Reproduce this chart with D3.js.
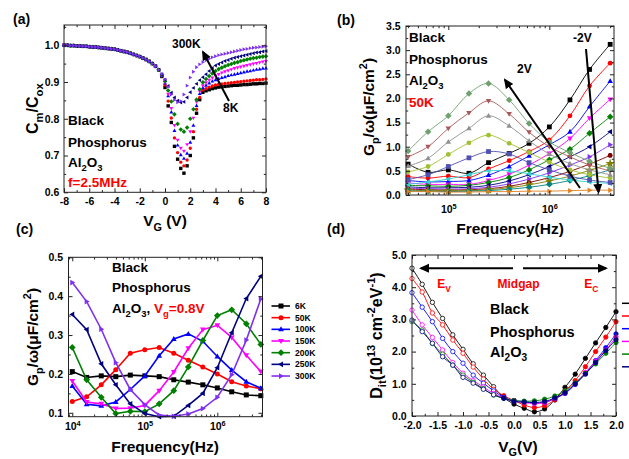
<!DOCTYPE html>
<html lang="en">
<head>
<meta charset="UTF-8">
<title>Black phosphorus / Al2O3 capacitance and conductance</title>
<script src="https://d3js.org/d3.v7.min.js"></script>
<style>
  body { margin: 0; background: #fff; }
  svg { display: block; font-family: Arial, "Liberation Sans", sans-serif; font-weight: bold; }
</style>
</head>
<body>
<svg width="629" height="459"></svg>
<script>
// ---------- (a) Cm/Cox vs VG, f = 2.5 MHz ----------
const vgA = [-8, -7.75, -7.5, -7.25, -7, -6.75, -6.5, -6.25, -6, -5.75, -5.5, -5.25, -5, -4.75, -4.5, -4.25,
  -4, -3.75, -3.5, -3.25, -3, -2.75, -2.5, -2.25, -2, -1.75, -1.5, -1.25, -1, -0.75, -0.5,
  -0.25, 0, 0.25, 0.5, 0.75, 1, 1.25, 1.5, 1.75, 2, 2.25, 2.5, 2.75, 3, 3.25, 3.5, 3.75,
  4, 4.25, 4.5, 4.75, 5, 5.25, 5.5, 5.75, 6, 6.25, 6.5, 6.75, 7, 7.25, 7.5, 7.75, 8];
// accumulation side, all temperatures overlap (-8 .. -0.5 V)
const cLeft = [1.000, 1.000, 0.999, 0.999, 0.998, 0.998, 0.997, 0.997, 0.996, 0.995, 0.995, 0.994, 0.993, 0.992, 0.991, 0.990,
  0.989, 0.987, 0.985, 0.983, 0.981, 0.978, 0.975, 0.972, 0.969, 0.965, 0.961, 0.956, 0.950, 0.943, 0.933];
const tempsA = ["8K", "50K", "100K", "150K", "200K", "250K", "300K"];
const cRight8K = [0.915, 0.885, 0.835, 0.790, 0.725, 0.690, 0.665, 0.652, 0.672, 0.700, 0.748, 0.815, 0.852, 0.872, 0.876, 0.879, 0.882, 0.884, 0.886, 0.887, 0.888, 0.889, 0.890, 0.891, 0.891, 0.892, 0.893, 0.893, 0.894, 0.895, 0.895, 0.896, 0.896, 0.897];
const cRight50K = [0.917, 0.892, 0.848, 0.802, 0.748, 0.708, 0.682, 0.672, 0.688, 0.720, 0.765, 0.826, 0.858, 0.878, 0.882, 0.886, 0.889, 0.892, 0.894, 0.895, 0.896, 0.897, 0.898, 0.899, 0.900, 0.901, 0.902, 0.903, 0.904, 0.905, 0.906, 0.906, 0.907, 0.908];
const cRight100K = [0.918, 0.897, 0.862, 0.818, 0.768, 0.728, 0.702, 0.692, 0.706, 0.736, 0.782, 0.836, 0.868, 0.884, 0.891, 0.897, 0.902, 0.906, 0.909, 0.912, 0.914, 0.917, 0.919, 0.921, 0.923, 0.925, 0.927, 0.929, 0.930, 0.932, 0.934, 0.935, 0.937, 0.938];
const cRight150K = [0.919, 0.899, 0.867, 0.828, 0.782, 0.742, 0.720, 0.712, 0.730, 0.765, 0.802, 0.846, 0.874, 0.890, 0.898, 0.905, 0.911, 0.917, 0.921, 0.925, 0.928, 0.931, 0.934, 0.937, 0.939, 0.941, 0.943, 0.945, 0.947, 0.949, 0.951, 0.953, 0.955, 0.956];
const cRight200K = [0.920, 0.902, 0.877, 0.847, 0.812, 0.786, 0.771, 0.765, 0.776, 0.800, 0.826, 0.852, 0.880, 0.899, 0.908, 0.916, 0.923, 0.930, 0.935, 0.939, 0.943, 0.946, 0.949, 0.952, 0.954, 0.957, 0.959, 0.961, 0.963, 0.965, 0.966, 0.968, 0.969, 0.970];
const cRight250K = [0.921, 0.906, 0.889, 0.871, 0.858, 0.849, 0.844, 0.846, 0.858, 0.872, 0.884, 0.895, 0.905, 0.913, 0.921, 0.930, 0.938, 0.945, 0.949, 0.953, 0.957, 0.960, 0.963, 0.966, 0.968, 0.970, 0.972, 0.974, 0.976, 0.978, 0.980, 0.981, 0.983, 0.984];
const cRight300K = [0.922, 0.907, 0.887, 0.866, 0.851, 0.845, 0.848, 0.866, 0.890, 0.912, 0.928, 0.940, 0.948, 0.954, 0.959, 0.963, 0.967, 0.970, 0.973, 0.975, 0.977, 0.979, 0.981, 0.983, 0.985, 0.987, 0.989, 0.990, 0.992, 0.993, 0.994, 0.995, 0.996, 0.997];
const cRightA = [cRight8K, cRight50K, cRight100K, cRight150K, cRight200K, cRight250K, cRight300K];

// ---------- (b) Gp/w vs f at 50K, VG = -2 .. 2 V ----------
const freqB = [4e4, 6.3e4, 1e5, 1.6e5, 2.5e5, 4e5, 6.3e5, 1e6, 1.6e6, 2.5e6, 4e6];
const voltsB = ["-2V", "-1.75V", "-1.5V", "-1.25V", "-1V", "-0.75V", "-0.5V", "-0.25V", "0V",
  "0.25V", "0.5V", "0.75V", "1V", "1.25V", "1.5V", "1.75V", "2V"];
const gpB = [
  [0.64, 0.47, 0.52, 0.45, 0.67, 0.86, 1.07, 1.41, 1.97, 2.60, 3.12],
  [0.38, 0.35, 0.39, 0.36, 0.54, 0.71, 0.90, 1.14, 1.64, 2.26, 2.73],
  [0.30, 0.27, 0.28, 0.30, 0.41, 0.59, 0.81, 1.04, 1.31, 1.83, 2.36],
  [0.25, 0.22, 0.22, 0.22, 0.30, 0.43, 0.62, 0.86, 1.17, 1.59, 1.98],
  [0.20, 0.19, 0.18, 0.20, 0.26, 0.36, 0.52, 0.73, 0.95, 1.28, 1.62],
  [0.17, 0.15, 0.15, 0.16, 0.20, 0.29, 0.42, 0.59, 0.79, 1.00, 1.31],
  [0.14, 0.13, 0.12, 0.13, 0.16, 0.23, 0.33, 0.46, 0.62, 0.79, 1.04],
  [0.12, 0.11, 0.10, 0.11, 0.13, 0.18, 0.26, 0.36, 0.49, 0.64, 0.82],
  [0.10, 0.09, 0.09, 0.09, 0.11, 0.15, 0.21, 0.29, 0.39, 0.51, 0.65],
  [0.08, 0.08, 0.07, 0.08, 0.09, 0.12, 0.16, 0.22, 0.30, 0.40, 0.52],
  [0.22, 0.27, 0.33, 0.42, 0.50, 0.50, 0.44, 0.37, 0.31, 0.27, 0.24],
  [0.07, 0.07, 0.06, 0.06, 0.07, 0.07, 0.08, 0.08, 0.09, 0.10, 0.10],
  [0.32, 0.42, 0.59, 0.77, 0.90, 0.85, 0.67, 0.52, 0.39, 0.31, 0.26],
  [0.48, 0.59, 0.84, 1.08, 1.24, 1.07, 0.88, 0.68, 0.52, 0.42, 0.35],
  [0.60, 0.76, 1.10, 1.38, 1.64, 1.43, 1.12, 0.85, 0.65, 0.52, 0.42],
  [0.79, 1.00, 1.38, 1.70, 1.95, 1.68, 1.30, 1.00, 0.79, 0.62, 0.50],
  [0.91, 1.31, 1.64, 2.10, 2.31, 1.97, 1.48, 1.10, 0.88, 0.70, 0.55]
];

// ---------- (c) Gp/w vs f at Vg = 0.8 V ----------
const freqC = [1e4, 1.58e4, 2.51e4, 3.98e4, 6.31e4, 1e5, 1.58e5, 2.51e5, 3.98e5, 6.31e5, 1e6, 1.58e6, 2.51e6, 3.98e6];
const tempsC = ["6K", "50K", "100K", "150K", "200K", "250K", "300K"];
const gp6K = [0.206, 0.191, 0.195, 0.193, 0.197, 0.195, 0.193, 0.185, 0.179, 0.172, 0.164, 0.154, 0.146, 0.144];
const gp50K = [0.129, 0.141, 0.172, 0.211, 0.253, 0.262, 0.268, 0.253, 0.235, 0.218, 0.200, 0.180, 0.169, 0.162];
const gp100K = [0.169, 0.122, 0.118, 0.128, 0.160, 0.195, 0.247, 0.290, 0.303, 0.284, 0.245, 0.210, 0.180, 0.163];
const gp150K = [0.182, 0.128, 0.123, 0.111, 0.112, 0.119, 0.157, 0.205, 0.266, 0.314, 0.325, 0.294, 0.248, 0.206];
const gp200K = [0.268, 0.185, 0.140, 0.098, 0.104, 0.103, 0.123, 0.157, 0.218, 0.286, 0.350, 0.365, 0.329, 0.276];
const gp250K = [0.353, 0.314, 0.226, 0.172, 0.123, 0.098, 0.090, 0.091, 0.119, 0.150, 0.216, 0.306, 0.394, 0.451];
const gp300K = [0.435, 0.386, 0.315, 0.229, 0.160, 0.121, 0.094, 0.091, 0.097, 0.111, 0.140, 0.198, 0.287, 0.393];
const gpC = [gp6K, gp50K, gp100K, gp150K, gp200K, gp250K, gp300K];

// ---------- (d) Dit vs VG ----------
const vgD = [-2.0, -1.8, -1.6, -1.4, -1.2, -1.0, -0.8, -0.6, -0.4, -0.2, 0.0, 0.2, 0.4, 0.6, 0.8, 1.0, 1.2, 1.4, 1.6, 1.8, 2.0];
const ditBlack = [4.59, 4.09, 3.53, 3.03, 2.52, 2.07, 1.62, 1.27, 0.91, 0.57, 0.37, 0.24, 0.13, 0.22, 0.50, 0.89, 1.30, 1.79, 2.27, 2.75, 3.24];
const ditRed = [4.27, 3.85, 3.20, 2.83, 2.36, 1.95, 1.52, 1.15, 0.83, 0.63, 0.48, 0.34, 0.26, 0.32, 0.50, 0.78, 1.10, 1.53, 2.00, 2.45, 2.93];
const ditBlue = [3.83, 3.38, 2.93, 2.41, 2.00, 1.64, 1.27, 1.02, 0.78, 0.58, 0.48, 0.45, 0.41, 0.42, 0.54, 0.70, 0.98, 1.32, 1.72, 2.12, 2.55];
const ditMagenta = [3.29, 2.83, 2.44, 2.05, 1.66, 1.33, 1.10, 0.90, 0.70, 0.56, 0.47, 0.42, 0.38, 0.42, 0.55, 0.72, 1.00, 1.35, 1.70, 2.05, 2.45];
const ditGreen = [2.93, 2.67, 2.25, 1.92, 1.58, 1.27, 1.05, 0.85, 0.65, 0.55, 0.48, 0.46, 0.47, 0.52, 0.62, 0.78, 1.03, 1.32, 1.62, 1.95, 2.28];
const ditNavy = [2.98, 2.62, 2.26, 1.84, 1.58, 1.20, 1.02, 0.83, 0.66, 0.55, 0.45, 0.43, 0.42, 0.45, 0.56, 0.72, 1.00, 1.30, 1.66, 2.03, 2.37];
const ditD = [ditBlack, ditRed, ditBlue, ditMagenta, ditGreen, ditNavy];

// colours / symbols (Origin-like)
const colors7 = ["#000000", "#ff0000", "#0000ff", "#ff00ff", "#008000", "#000080", "#8030f0"];
const symbols7 = ["square", "circle", "up", "down", "diamond", "left", "right"];
const colorsB = ["#000000", "#ff0000", "#0000ff", "#ff00ff", "#008000", "#000080", "#8030f0", "#800000",
  "#808000", "#008080", "#30d0d0", "#e08020", "#5050b0", "#a0c030", "#909090", "#a85858", "#70a070"];
const symbolsB = ["square", "circle", "up", "down", "diamond", "left", "right", "hex", "star", "diamond",
  "left", "right", "square", "circle", "up", "down", "diamond"];

const svg = d3.select("svg");
svg.append("rect").attr("width", 629).attr("height", 459).attr("fill", "#fff");

svg.append("defs").append("marker")
  .attr("id", "head")
  .attr("viewBox", "0 -5 10 10")
  .attr("refX", 8).attr("refY", 0)
  .attr("markerUnits", "userSpaceOnUse")
  .attr("markerWidth", 10).attr("markerHeight", 10)
  .attr("orient", "auto")
  .append("path").attr("d", "M0,-4.5L10,0L0,4.5Z").attr("fill", "#000");

function markerPath(type, s) {
  switch (type) {
    case "square": return `M${-s},${-s}H${s}V${s}H${-s}Z`;
    case "circle": return `M${s},0A${s},${s} 0 1,1 ${-s},0A${s},${s} 0 1,1 ${s},0Z`;
    case "up": return `M0,${-s * 1.2}L${s * 1.15},${s * 0.8}L${-s * 1.15},${s * 0.8}Z`;
    case "down": return `M0,${s * 1.2}L${s * 1.15},${-s * 0.8}L${-s * 1.15},${-s * 0.8}Z`;
    case "left": return `M${-s * 1.2},0L${s * 0.8},${-s * 1.15}L${s * 0.8},${s * 1.15}Z`;
    case "right": return `M${s * 1.2},0L${-s * 0.8},${-s * 1.15}L${-s * 0.8},${s * 1.15}Z`;
    case "diamond": return `M0,${-s * 1.35}L${s * 1.35},0L0,${s * 1.35}L${-s * 1.35},0Z`;
    case "hex": return d3.range(6).map(i => {
      const a = Math.PI / 3 * i;
      return (i ? "L" : "M") + (s * 1.1 * Math.cos(a)) + "," + (s * 1.1 * Math.sin(a));
    }).join("") + "Z";
    case "star": return d3.symbol(d3.symbolStar, s * s * 5)();
  }
}

function styleAxis(g, size) {
  g.select(".domain").remove();
  g.attr("font-family", null).attr("font-size", size).attr("font-weight", "bold");
  g.selectAll(".tick line").attr("stroke", "#222");
  g.selectAll(".tick text").attr("fill", "#000");
}

function drawAxes(box, x, y, o) {
  const fs = o.fs || 10.5;
  const bottom = svg.append("g").attr("transform", `translate(0,${box.y1})`)
    .call(d3.axisBottom(x).tickValues(o.xMajor).tickSize(-4).tickPadding(o.xPad).tickFormat(o.xFmt));
  styleAxis(bottom, fs);
  if (o.log) {
    bottom.selectAll(".tick text").each(function (d) {
      const t = d3.select(this).text("10");
      t.append("tspan").attr("dy", "-0.5em").attr("font-size", fs * 0.7).text(Math.round(Math.log10(d)));
    });
  }
  svg.append("g").attr("transform", `translate(0,${box.y1})`)
    .call(d3.axisBottom(x).tickValues(o.xMinor).tickSize(-2.2).tickFormat("")).call(g => styleAxis(g, fs));
  svg.append("g").attr("transform", `translate(0,${box.y0})`)
    .call(d3.axisTop(x).tickValues(o.xMajor).tickSize(-4).tickFormat("")).call(g => styleAxis(g, fs));
  svg.append("g").attr("transform", `translate(0,${box.y0})`)
    .call(d3.axisTop(x).tickValues(o.xMinor).tickSize(-2.2).tickFormat("")).call(g => styleAxis(g, fs));

  svg.append("g").attr("transform", `translate(${box.x0},0)`)
    .call(d3.axisLeft(y).tickValues(o.yMajor).tickSize(-4).tickPadding(o.yPad).tickFormat(o.yFmt)).call(g => styleAxis(g, fs));
  svg.append("g").attr("transform", `translate(${box.x0},0)`)
    .call(d3.axisLeft(y).tickValues(o.yMinor).tickSize(-2.2).tickFormat("")).call(g => styleAxis(g, fs));
  svg.append("g").attr("transform", `translate(${box.x1},0)`)
    .call(d3.axisRight(y).tickValues(o.yMajor).tickSize(-4).tickFormat("")).call(g => styleAxis(g, fs));
  svg.append("g").attr("transform", `translate(${box.x1},0)`)
    .call(d3.axisRight(y).tickValues(o.yMinor).tickSize(-2.2).tickFormat("")).call(g => styleAxis(g, fs));

  svg.append("rect")
    .attr("x", box.x0).attr("y", box.y0)
    .attr("width", box.x1 - box.x0).attr("height", box.y1 - box.y0)
    .attr("fill", "none").attr("stroke", "#222").attr("stroke-width", 1);
}

// text with sub/superscripts
function rich(x, y, parts, size, opt = {}) {
  const t = svg.append("text")
    .attr("x", x).attr("y", y)
    .attr("font-size", size)
    .attr("fill", opt.fill || "#000")
    .attr("text-anchor", opt.anchor || "start");
  if (opt.rotate) t.attr("transform", `rotate(-90 ${x} ${y})`);
  let shift = 0;
  parts.forEach(p => {
    const part = typeof p === "string" ? { t: p } : p;
    const target = part.sub ? size * 0.3 : part.sup ? -size * 0.42 : 0;
    const s = t.append("tspan").attr("dy", target - shift).text(part.t);
    if (part.sub || part.sup) s.attr("font-size", size * 0.7);
    if (part.fill) s.attr("fill", part.fill);
    shift = target;
  });
  return t;
}

function arrow(x1, y1, x2, y2) {
  svg.append("line")
    .attr("x1", x1).attr("y1", y1).attr("x2", x2).attr("y2", y2)
    .attr("stroke", "#000").attr("stroke-width", 2)
    .attr("marker-end", "url(#head)");
}

const fmtStr = d => String(d);
const fmt1 = d => d.toFixed(1);

// ================= panel (a) =================
const boxA = { x0: 64, x1: 266, y0: 25, y1: 192.3 };
const xA = d3.scaleLinear().domain([-8, 8]).range([boxA.x0, boxA.x1]);
const yA = d3.scaleLinear().domain([0.6, 1.055]).range([boxA.y1, boxA.y0]);

tempsA.forEach((name, i) => {
  const vals = cLeft.concat(cRightA[i]);
  svg.append("g").attr("class", "series-a").selectAll("path")
    .data(vgA.map((v, k) => [v, vals[k]]))
    .join("path")
    .attr("transform", d => `translate(${xA(d[0])},${yA(d[1])})`)
    .attr("d", markerPath(symbols7[i], 1.7))
    .attr("fill", colors7[i]);
});

drawAxes(boxA, xA, yA, {
  xMajor: [-8, -6, -4, -2, 0, 2, 4, 6, 8], xMinor: [-7, -5, -3, -1, 1, 3, 5, 7], xPad: 5.3, xFmt: fmtStr,
  yMajor: [0.6, 0.7, 0.8, 0.9, 1.0], yMinor: [0.65, 0.75, 0.85, 0.95, 1.05], yPad: 4.7, yFmt: fmt1
});

svg.append("text").attr("x", 13).attr("y", 24).attr("font-size", 14).text("(a)");
rich(38, (boxA.y0 + boxA.y1) / 2, ["C", { t: "m", sub: true }, "/C", { t: "ox", sub: true }], 16, { anchor: "middle", rotate: true });
rich(165, 226, ["V", { t: "G", sub: true }, " (V)"], 15.5, { anchor: "middle" });
rich(68, 125, ["Black"], 13.5);
rich(68, 147, ["Phosphorus"], 13.5);
rich(68, 167, ["Al", { t: "2", sub: true }, "O", { t: "3", sub: true }], 13.5);
rich(68, 187, ["f=2.5MHz"], 13.5, { fill: "#ff0000" });
rich(172, 48, ["300K"], 12);
rich(223, 112, ["8K"], 12);
arrow(229, 101, 203, 52);

// ================= panel (b) =================
const boxB = { x0: 406, x1: 614, y0: 26, y1: 195 };
const xB = d3.scaleLog().domain([Math.pow(10, 4.581), Math.pow(10, 6.64)]).range([boxB.x0, boxB.x1]);
const yB = d3.scaleLinear().domain([0, 3.5]).range([boxB.y1, boxB.y0]);
const lineB = d3.line().x(d => xB(d[0])).y(d => yB(d[1])).curve(d3.curveCatmullRom.alpha(0.5));

voltsB.forEach((name, i) => {
  const pts = freqB.map((f, k) => [f, gpB[i][k]]);
  const g = svg.append("g").attr("class", "series-b");
  g.append("path").attr("d", lineB(pts)).attr("fill", "none")
    .attr("stroke", colorsB[i]).attr("stroke-width", 0.9);
  g.selectAll("path.m").data(pts).join("path").attr("class", "m")
    .attr("transform", d => `translate(${xB(d[0])},${yB(d[1])})`)
    .attr("d", markerPath(symbolsB[i], 2.4))
    .attr("fill", colorsB[i]);
});

drawAxes(boxB, xB, yB, {
  xMajor: [1e5, 1e6], xMinor: xB.ticks().filter(t => Math.abs(Math.log10(t) % 1) > 1e-6),
  xPad: 10.5, xFmt: () => "", log: true,
  yMajor: [0, 0.5, 1, 1.5, 2, 2.5, 3, 3.5], yMinor: [0.25, 0.75, 1.25, 1.75, 2.25, 2.75, 3.25], yPad: 5.3, yFmt: fmt1
});

svg.append("text").attr("x", 337).attr("y", 25).attr("font-size", 14).text("(b)");
rich(374, 107, ["G", { t: "p", sub: true }, "/ω(μF/cm", { t: "2", sup: true }, ")"], 15.5, { anchor: "middle", rotate: true });
rich(510, 234, ["Frequency(Hz)"], 15.5, { anchor: "middle" });
rich(409, 42, ["Black"], 13.5);
rich(409, 63.7, ["Phosphorus"], 13.5);
rich(409, 85, ["Al", { t: "2", sub: true }, "O", { t: "3", sub: true }], 13.5);
rich(409, 107, ["50K"], 13.5, { fill: "#ff0000" });
rich(517, 73.3, ["2V"], 12);
rich(573, 41.7, ["-2V"], 12);
arrow(580, 188, 505, 80);
arrow(586, 49, 598.5, 192);

// ================= panel (c) =================
const boxC = { x0: 68.5, x1: 262.5, y0: 257.3, y1: 416.7 };
const xC = d3.scaleLog().domain([Math.pow(10, 3.948), Math.pow(10, 6.623)]).range([boxC.x0, boxC.x1]);
const yC = d3.scaleLinear().domain([0.09, 0.5]).range([boxC.y1, boxC.y0]);
const lineC = d3.line().x(d => xC(d[0])).y(d => yC(d[1]));

tempsC.forEach((name, i) => {
  const pts = freqC.map((f, k) => [f, gpC[i][k]]);
  const g = svg.append("g").attr("class", "series-c");
  g.append("path").attr("d", lineC(pts)).attr("fill", "none")
    .attr("stroke", colors7[i]).attr("stroke-width", 1.6);
  g.selectAll("path.m").data(pts).join("path").attr("class", "m")
    .attr("transform", d => `translate(${xC(d[0])},${yC(d[1])})`)
    .attr("d", markerPath(symbols7[i], 2.5))
    .attr("fill", colors7[i]);
});

drawAxes(boxC, xC, yC, {
  xMajor: [1e4, 1e5, 1e6], xMinor: xC.ticks().filter(t => Math.abs(Math.log10(t) % 1) > 1e-6),
  xPad: 6, xFmt: () => "", log: true,
  yMajor: [0.1, 0.2, 0.3, 0.4, 0.5], yMinor: [0.15, 0.25, 0.35, 0.45], yPad: 5.5, yFmt: fmt1
});

// legend (c)
const legC = svg.append("g");
tempsC.forEach((name, i) => {
  const yy = 306 + i * 11.67;
  legC.append("line").attr("x1", 271.5).attr("x2", 290).attr("y1", yy).attr("y2", yy)
    .attr("stroke", colors7[i]).attr("stroke-width", 1.6);
  legC.append("path").attr("transform", `translate(281,${yy})`)
    .attr("d", markerPath(symbols7[i], 2.5)).attr("fill", colors7[i]);
  legC.append("text").attr("x", 295).attr("y", yy).attr("dy", "0.35em")
    .attr("font-size", 8.5).text(name);
});

svg.append("text").attr("x", 16).attr("y", 234).attr("font-size", 14).text("(c)");
rich(38, (boxC.y0 + boxC.y1) / 2, ["G", { t: "p", sub: true }, "/ω(μF/cm", { t: "2", sup: true }, ")"], 15.5, { anchor: "middle", rotate: true });
rich(165, 452, ["Frequency(Hz)"], 15.5, { anchor: "middle" });
rich(112, 271.7, ["Black"], 13.5);
rich(112, 291.7, ["Phosphorus"], 13.5);
rich(112, 313, ["Al", { t: "2", sub: true }, "O", { t: "3", sub: true }, ", ",
  { t: "V", fill: "#ff0000" }, { t: "g", sub: true, fill: "#ff0000" }, { t: "=0.8V", fill: "#ff0000" }], 13.5);

// ================= panel (d) =================
const boxD = { x0: 412, x1: 616, y0: 255, y1: 416 };
const xD = d3.scaleLinear().domain([-2, 2]).range([boxD.x0, boxD.x1]);
const yD = d3.scaleLinear().domain([0, 5]).range([boxD.y1, boxD.y0]);
const lineD = d3.line().x(d => xD(d[0])).y(d => yD(d[1])).curve(d3.curveCatmullRom.alpha(0.5));
const colorsD = colors7.slice(0, 6);

ditD.forEach((vals, i) => {
  const pts = vgD.map((v, k) => [v, vals[k]]);
  const g = svg.append("g").attr("class", "series-d");
  g.append("path").attr("d", lineD(pts)).attr("fill", "none")
    .attr("stroke", colorsD[i]).attr("stroke-width", 0.9);
  g.selectAll("circle").data(pts).join("circle")
    .attr("cx", d => xD(d[0])).attr("cy", d => yD(d[1])).attr("r", 2.2)
    .attr("fill", d => d[0] < -0.3 ? "#fff" : colorsD[i])
    .attr("stroke", colorsD[i]).attr("stroke-width", 0.8);
});

drawAxes(boxD, xD, yD, {
  xMajor: [-2, -1.5, -1, -0.5, 0, 0.5, 1, 1.5, 2], xMinor: [-1.75, -1.25, -0.75, -0.25, 0.25, 0.75, 1.25, 1.75],
  xPad: 5.6, xFmt: fmt1,
  yMajor: [0, 1, 2, 3, 4, 5], yMinor: [0.5, 1.5, 2.5, 3.5, 4.5], yPad: 5.3, yFmt: fmt1
});

// legend stubs for (d) (labels fall outside the picture)
colorsD.forEach((c, i) => {
  const yy = 303.3 + i * 12.7;
  svg.append("line").attr("x1", 622).attr("x2", 640).attr("y1", yy).attr("y2", yy)
    .attr("stroke", c).attr("stroke-width", 1.5);
});

svg.append("text").attr("x", 327).attr("y", 234).attr("font-size", 14).text("(d)");
rich(381.5, (boxD.y0 + boxD.y1) / 2, ["D", { t: "it", sub: true }, "(10", { t: "13", sup: true }, " cm",
  { t: "-2", sup: true }, "eV", { t: "-1", sup: true }, ")"], 16, { anchor: "middle", rotate: true });
rich(518, 451.5, ["V", { t: "G", sub: true }, "(V)"], 15.5, { anchor: "middle" });
arrow(513, 268.3, 421, 268.3);
arrow(523, 268.3, 606, 268.3);
rich(437.3, 288.3, ["E", { t: "V", sub: true }], 12, { fill: "#ff0000" });
rich(518.5, 288.3, ["Midgap"], 12, { fill: "#ff0000", anchor: "middle" });
rich(584.3, 288.3, ["E", { t: "C", sub: true }], 12, { fill: "#ff0000" });
rich(490, 314.3, ["Black"], 14.5);
rich(490, 336.7, ["Phosphorus"], 14.5);
rich(490, 356.7, ["Al", { t: "2", sub: true }, "O", { t: "3", sub: true }], 14.5);
</script>
</body>
</html>
